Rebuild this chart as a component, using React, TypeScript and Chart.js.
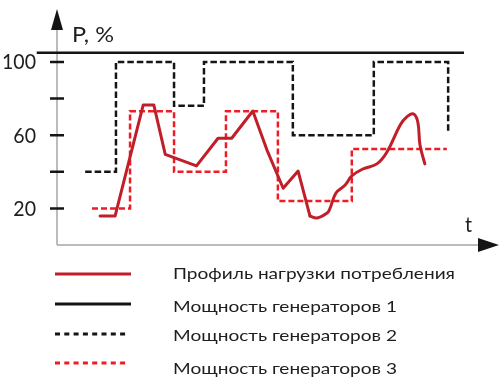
import React, { useEffect, useRef } from 'react';
import { Chart, registerables } from 'chart.js';

Chart.register(...registerables);

// ---- data (time in arbitrary units, power in %) ----
const timeLoadSharp = [9.8, 13.2, 19.6, 22.0, 24.6, 31.7, 36.6, 39.7, 44.5, 47.7, 51.4, 54.8, 57.5];
const loadSharp = [15.8, 15.8, 76.5, 76.5, 49.5, 43.2, 58.3, 58.3, 73.2, 52, 31, 40.4, 15.8];

const timeLoadSmooth = [57.5, 59.1, 61.4, 62.0, 63.4, 65.5, 67.0, 69.5, 72.7, 75.0, 78.0, 79.5, 81.0, 82.0, 82.5, 83.6];
const loadSmooth = [15.8, 14.8, 17.5, 19.7, 28.4, 32.8, 37.7, 41.5, 44.3, 50.8, 65.6, 70, 71.6, 67.2, 54.6, 44.3];

const timeGen1 = [-4.6, 92.5];
const gen1 = [105, 105];

const timeGen2 = [6.4, 13.4, 26.6, 33.4, 53.6, 72.0, 88.9];
const gen2 = [40, 100, 76, 100, 60, 100, 61];

const timeGen3 = [7.95, 16.6, 26.6, 38.4, 50.2, 67.0, 88.6];
const gen3 = [20, 73, 40, 73, 24, 52.5, 52.5];

const yTickValues = [20, 40, 60, 80, 100];
const yTickLabels = ['20', '', '60', '', '100'];

const legendLabels = [
  'Профиль нагрузки потребления',
  'Мощность генераторов 1',
  'Мощность генераторов 2',
  'Мощность генераторов 3',
];
const yAxisTitle = 'P, %';
const xAxisTitle = 't';

const LOAD_COLOR = '#c01f2a';
const RED_DASH = '#ee1c24';
const BLACK = '#151515';
const AXIS_GRAY = '#a6a6a6';
const TEXT = '#1e1e1e';
const FONT = 'Lato, "Open Sans", sans-serif';

const pts = (xs: number[], ys: number[]) => xs.map((x, i) => ({ x, y: ys[i] }));

function drawText(ctx: CanvasRenderingContext2D, text: string, x: number, y: number, sx: number, align: CanvasTextAlign) {
  ctx.save();
  ctx.translate(x, y);
  ctx.scale(sx, 1);
  ctx.textAlign = align;
  ctx.textBaseline = 'alphabetic';
  ctx.fillText(text, 0, 0);
  ctx.restore();
}

const axesPlugin = {
  id: 'axesPlugin',
  beforeDatasetsDraw(chart: any) {
    const { ctx, chartArea } = chart;
    const xs = chart.scales.x;
    const ys = chart.scales.y;
    const x0 = xs.getPixelForValue(0);
    const y0 = ys.getPixelForValue(0);
    ctx.save();
    ctx.strokeStyle = AXIS_GRAY;
    ctx.lineWidth = 1.5;
    ctx.beginPath();
    ctx.moveTo(x0, y0);
    ctx.lineTo(x0, chartArea.top + 20);
    ctx.moveTo(x0, y0);
    ctx.lineTo(chartArea.right - 18, y0);
    ctx.stroke();
    ctx.fillStyle = BLACK;
    ctx.beginPath();
    ctx.moveTo(x0, chartArea.top + 2);
    ctx.lineTo(x0 - 6, chartArea.top + 23);
    ctx.lineTo(x0 + 6, chartArea.top + 23);
    ctx.closePath();
    ctx.fill();
    ctx.beginPath();
    ctx.moveTo(chartArea.right + 2, y0);
    ctx.lineTo(chartArea.right - 19, y0 - 7);
    ctx.lineTo(chartArea.right - 19, y0 + 7);
    ctx.closePath();
    ctx.fill();
    ctx.strokeStyle = BLACK;
    ctx.lineWidth = 2.5;
    ctx.beginPath();
    yTickValues.forEach((v) => {
      const py = ys.getPixelForValue(v);
      ctx.moveTo(x0 - 7, py);
      ctx.lineTo(x0 + 7, py);
    });
    ctx.stroke();
    ctx.restore();
  },
  afterDraw(chart: any) {
    const { ctx, chartArea } = chart;
    const xs = chart.scales.x;
    const ys = chart.scales.y;
    const x0 = xs.getPixelForValue(0);
    const y0 = ys.getPixelForValue(0);
    ctx.save();
    ctx.fillStyle = TEXT;
    ctx.font = `21px ${FONT}`;
    const sxAxis = 34 / ctx.measureText('100').width;
    yTickValues.forEach((v, i) => {
      const lbl = yTickLabels[i];
      if (!lbl) return;
      drawText(ctx, lbl, x0 - 21, ys.getPixelForValue(v) + 7.5, sxAxis, 'right');
    });
    const sxTitle = 42 / ctx.measureText(yAxisTitle).width;
    drawText(ctx, yAxisTitle, x0 + 15, chartArea.top + 35, sxTitle, 'left');
    drawText(ctx, xAxisTitle, chartArea.right - 32, y0 - 13, sxAxis, 'left');

    // legend
    const rows = [274, 304, 334, 363];
    const baselines = [279, 311.5, 341, 374];
    const dsIdx = [0, 2, 3, 4];
    ctx.font = `16px ${FONT}`;
    const sxLegend = 282 / ctx.measureText(legendLabels[0]).width;
    dsIdx.forEach((di, i) => {
      const ds = chart.data.datasets[di];
      const dashed = ds.borderDash && ds.borderDash.length > 0;
      ctx.save();
      ctx.strokeStyle = ds.borderColor;
      ctx.lineWidth = 3;
      ctx.setLineDash(dashed ? [5, 4.3] : []);
      ctx.beginPath();
      ctx.moveTo(55, rows[i]);
      ctx.lineTo(dashed ? 128 : 131, rows[i]);
      ctx.stroke();
      ctx.restore();
      ctx.fillStyle = TEXT;
      drawText(ctx, legendLabels[i], 173, baselines[i], sxLegend, 'left');
    });
    ctx.restore();
  },
};

export default function App() {
  const ref = useRef<HTMLCanvasElement | null>(null);
  useEffect(() => {
    if (!ref.current) return;
    const chart = new Chart(ref.current, {
      type: 'line',
      data: {
        datasets: [
          {
            label: legendLabels[0],
            data: pts(timeLoadSharp, loadSharp),
            borderColor: LOAD_COLOR,
            borderWidth: 3,
            tension: 0,
            pointRadius: 0,
            borderJoinStyle: 'round',
            borderCapStyle: 'round',
          },
          {
            label: legendLabels[0],
            data: pts(timeLoadSmooth, loadSmooth),
            borderColor: LOAD_COLOR,
            borderWidth: 3,
            tension: 0.4,
            pointRadius: 0,
            borderJoinStyle: 'round',
            borderCapStyle: 'round',
          },
          {
            label: legendLabels[1],
            data: pts(timeGen1, gen1),
            borderColor: BLACK,
            borderWidth: 2.5,
            pointRadius: 0,
          },
          {
            label: legendLabels[2],
            data: pts(timeGen2, gen2),
            borderColor: BLACK,
            borderWidth: 2.5,
            borderDash: [6.5, 3],
            stepped: 'before',
            pointRadius: 0,
          },
          {
            label: legendLabels[3],
            data: pts(timeGen3, gen3),
            borderColor: RED_DASH,
            borderWidth: 2.5,
            borderDash: [6, 3],
            stepped: 'before',
            pointRadius: 0,
          },
        ],
      } as any,
      options: {
        animation: false,
        responsive: false,
        maintainAspectRatio: false,
        events: [],
        layout: { padding: { left: 35, right: 3, top: 7, bottom: 145 } },
        scales: {
          x: { type: 'linear', min: -5, max: 100, display: false },
          y: { type: 'linear', min: 0, max: 130, display: false },
        },
        plugins: {
          legend: { display: false },
          tooltip: { enabled: false },
        },
      } as any,
      plugins: [axesPlugin],
    });
    return () => chart.destroy();
  }, []);
  return (
    <div style={{ position: 'absolute', left: 0, top: 0, width: 500, height: 390, background: '#fff' }}>
      <canvas ref={ref} width={500} height={390} style={{ display: 'block', width: 500, height: 390 }} />
    </div>
  );
}
